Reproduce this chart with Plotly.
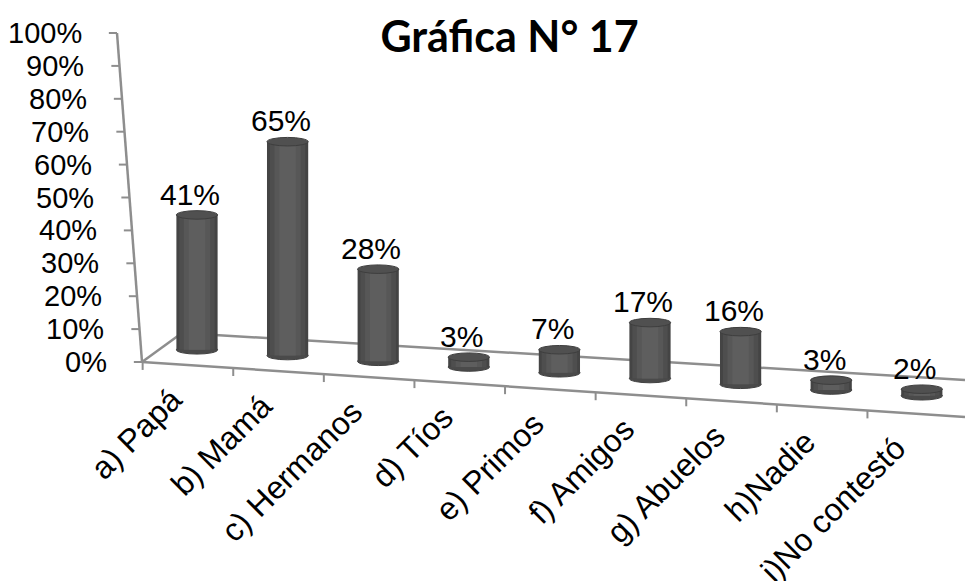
import plotly.graph_objects as go

# ---------------- data ----------------
categories = ["a) Papá", "b) Mamá", "c) Hermanos", "d) Tíos", "e) Primos",
              "f) Amigos", "g) Abuelos", "h)Nadie", "i)No contestó"]
values = [41, 65, 28, 3, 7, 17, 16, 3, 2]
value_labels = ["41%", "65%", "28%", "3%", "7%", "17%", "16%", "3%", "2%"]
y_ticks = [0, 10, 20, 30, 40, 50, 60, 70, 80, 90, 100]
y_tick_labels = ["0%", "10%", "20%", "30%", "40%", "50%", "60%", "70%", "80%", "90%", "100%"]
title_text = "Gráfica N° 17"

# ---------------- pseudo-3D geometry (style) ----------------
W, H = 965, 581
PX_X, X0_PX = 90.6, 197.0      # px per category, px of first category
PX_Y, Y0_PX = 3.29, 362.0      # px per percent, px of 0%
x_range = [-X0_PX / PX_X, (W - X0_PX) / PX_X]
y_range = [-(H - Y0_PX) / PX_Y, Y0_PX / PX_Y]

def back(x):   # back edge of the floor
    return 8.81 - 1.652 * (x + 0.166)

def front(x):  # front edge of the floor
    return -1.841 * (x + 0.607)

def wall_x(v):
    return -0.607 - 0.276 * v / 100.0

idx = list(range(len(categories)))
bases = [(back(i) + front(i)) / 2 for i in idx]
BW = 0.455
R = 1.3
LINE = "#8e8e8e"

fig = go.Figure()
for w, c in [(BW, "#444444"), (BW * 0.86, "#4e4e4e"), (BW * 0.64, "#575757"), (BW * 0.4, "#5e5e5e")]:
    fig.add_trace(go.Bar(x=idx, y=values, base=bases, width=w,
                         marker=dict(color=c, line=dict(width=0)),
                         hoverinfo="skip", showlegend=False))

shapes = []
# floor
shapes.append(dict(type="line", xref="x", yref="y", x0=-0.607, y0=0, x1=x_range[1], y1=front(x_range[1]),
                   line=dict(color=LINE, width=2.5), layer="below"))
shapes.append(dict(type="line", xref="x", yref="y", x0=-0.166, y0=back(-0.166), x1=x_range[1], y1=back(x_range[1]),
                   line=dict(color=LINE, width=2.5), layer="below"))
shapes.append(dict(type="line", xref="x", yref="y", x0=-0.607, y0=0, x1=-0.166, y1=back(-0.166),
                   line=dict(color=LINE, width=2.5), layer="below"))
# wall axis
shapes.append(dict(type="line", xref="x", yref="y", x0=wall_x(0), y0=0, x1=wall_x(100), y1=100,
                   line=dict(color=LINE, width=2.5), layer="below"))
for v in y_ticks:
    shapes.append(dict(type="line", xref="x", yref="y", x0=wall_x(v) - 0.09, y0=v, x1=wall_x(v), y1=v,
                       line=dict(color=LINE, width=2), layer="below"))
# front-edge ticks
for k in range(len(categories)):
    xk = k - 0.6
    shapes.append(dict(type="line", xref="x", yref="y", x0=xk, y0=front(xk), x1=xk, y1=front(xk) - 2.4,
                       line=dict(color=LINE, width=2), layer="below"))
# cylinder ends
for i, v, b in zip(idx, values, bases):
    shapes.append(dict(type="circle", xref="x", yref="y", x0=i - BW / 2, x1=i + BW / 2, y0=b - R, y1=b + R,
                       fillcolor="#4a4a4a", line=dict(color="#404040", width=1), layer="below"))
    shapes.append(dict(type="circle", xref="x", yref="y", x0=i - BW / 2, x1=i + BW / 2, y0=b + v - R, y1=b + v + R,
                       fillcolor="#505050", line=dict(color="#3e3e3e", width=1), layer="above"))

annotations = []
FONT = "Liberation Sans, Arial, sans-serif"
for v, t in zip(y_ticks, y_tick_labels):
    annotations.append(dict(x=wall_x(v) - 0.09, y=v, xref="x", yref="y", text=t, showarrow=False,
                            xanchor="right", yanchor="middle", xshift=-25,
                            font=dict(family=FONT, size=29, color="#000000")))
for i, v, b, t in zip(idx, values, bases, value_labels):
    annotations.append(dict(x=i, y=b + v + R, xref="x", yref="y", text=t, showarrow=False,
                            xanchor="center", yanchor="bottom", xshift=-7, yshift=-2,
                            font=dict(family=FONT, size=30, color="#000000")))
for i, c in zip(idx, categories):
    annotations.append(dict(x=i, y=front(i) - 3.0, xref="x", yref="y", text=c, showarrow=False,
                            xanchor="right", yanchor="top", textangle=-45, xshift=-6, yshift=-3,
                            font=dict(family=FONT, size=32, color="#000000")))

fig.update_layout(
    width=W, height=H,
    margin=dict(l=0, r=0, t=0, b=0),
    paper_bgcolor="white", plot_bgcolor="white",
    barmode="overlay",
    title=dict(text=title_text, x=0.528, y=0.937, xanchor="center", yanchor="middle",
               font=dict(family="Lato, sans-serif", size=43, color="#000000", weight="bold")),
    xaxis=dict(range=x_range, visible=False, fixedrange=True),
    yaxis=dict(range=y_range, visible=False, fixedrange=True),
    shapes=shapes, annotations=annotations,
    showlegend=False,
)
fig.write_html("out.html",
               config={"displayModeBar": False, "staticPlot": True},
               post_script="document.body.style.margin='0';document.body.style.overflow='hidden';")
